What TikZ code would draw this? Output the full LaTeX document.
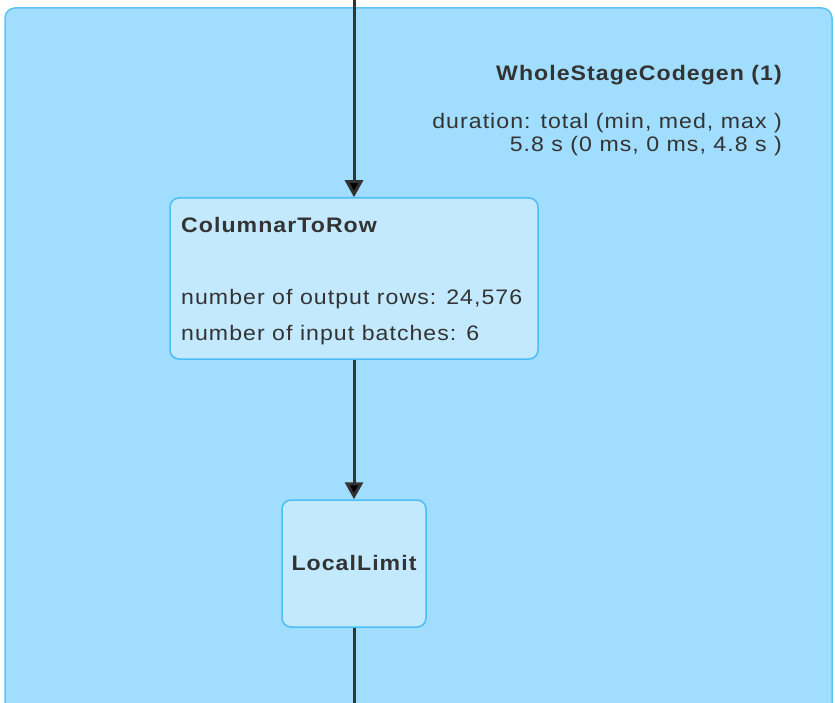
\documentclass[tikz,border=0pt]{standalone}
\usepackage{fontspec}
\setmainfont[FakeStretch=1.1,LetterSpace=5]{Liberation Sans}
\usetikzlibrary{arrows.meta}
\definecolor{stagefill}{HTML}{A1DDFE}
\definecolor{stageline}{HTML}{5CC3F9}
\definecolor{opfill}{HTML}{C3E9FE}
\definecolor{opline}{HTML}{4DBDF8}
\definecolor{ink}{HTML}{333333}
\tikzset{
  stagebox/.style={draw=stageline, fill=stagefill, line width=1.5pt, rounded corners=10pt},
  opbox/.style={draw=opline, fill=opfill, line width=1.5pt, rounded corners=9pt, inner sep=0pt},
  flow/.style={draw=ink, line width=3pt, -{Triangle[length=17pt,width=18pt,fill=black]}},
  plainflow/.style={draw=ink, line width=3pt},
  txt/.style={text=ink, font=\fontsize{21}{25}\selectfont, inner sep=0pt},
  boldtxt/.style={txt, font=\fontsize{21}{25}\selectfont\bfseries},
}
\begin{document}
\begin{tikzpicture}[x=1pt,y=-1pt]
\useasboundingbox (0,0) rectangle (835,703);
\begin{scope}
  \clip (0,0) rectangle (835,703);
  \path[stagebox] (5,8) rectangle (832,760);
\end{scope}
% stage header
\node[boldtxt, anchor=base east] (title) at (782,81) {WholeStageCodegen (1)};
\node[txt, anchor=base east] (dur1) at (782,129) {duration: total (min, med, max )};
\node[txt, anchor=base east] (dur2) at (782,152) {5.8 s (0 ms, 0 ms, 4.8 s )};
% operators
\node[opbox, minimum width=368pt, minimum height=161pt] (c2r) at (354,278.5) {};
\node[boldtxt, anchor=base west] (c2rname) at (181,233) {ColumnarToRow};
\node[txt, anchor=base west] (m1) at (181,305) {number of output rows: 24,576};
\node[txt, anchor=base west] (m2) at (181,340) {number of input batches: 6};
\node[opbox, minimum width=144pt, minimum height=127pt] (ll) at (354,563.5) {};
\node[boldtxt] (llname) at (354,563) {LocalLimit};
% connectors
\coordinate (top) at (354,0);
\coordinate (bottom) at (354,703);
\draw[flow] (top) -- (c2r.north);
\draw[flow] (c2r.south) -- (ll.north);
\draw[plainflow] (ll.south) -- (bottom);
\end{tikzpicture}
\end{document}
